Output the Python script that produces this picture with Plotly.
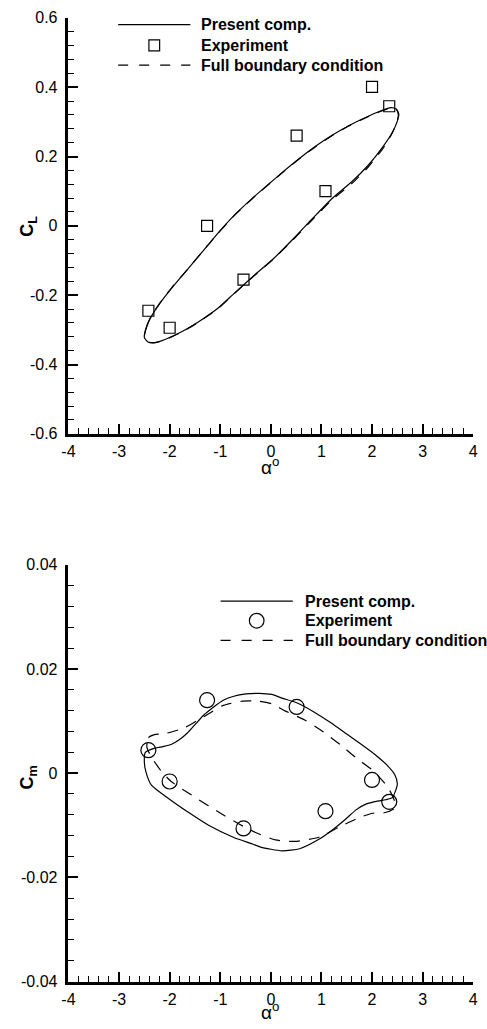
import plotly.graph_objects as go

# ---------------- data ----------------
# experiment angles (deg), shared by both panels
alpha_exp = [-2.42, -2.00, -1.26, -0.54, 0.51, 1.08, 2.00, 2.34]
cl_exp = [-0.245, -0.294, 0.0, -0.155, 0.26, 0.10, 0.401, 0.345]
cm_exp = [0.0044, -0.0016, 0.0140, -0.0106, 0.0127, -0.0073, -0.0013, -0.0055]

# lift loop, present computation
alpha_cl_present = [-2.50, -2.46, -2.36, -2.19, -1.94, -1.62, -1.36, -1.04, -0.72, -0.40,
                    -0.07, 0.25, 0.57, 0.89, 1.21, 1.53, 1.85, 2.18, 2.37, 2.48,
                    2.53, 2.50, 2.40, 2.21, 1.92, 1.60, 1.21, 0.83, 0.44, 0.05,
                    -0.33, -0.72, -1.04, -1.36, -1.68, -2.00, -2.26, -2.42, -2.50]
cl_present = [-0.322, -0.294, -0.261, -0.223, -0.176, -0.121, -0.076, -0.020, 0.031, 0.075,
              0.117, 0.157, 0.195, 0.230, 0.261, 0.288, 0.311, 0.332, 0.341, 0.337,
              0.321, 0.302, 0.269, 0.227, 0.174, 0.127, 0.079, 0.022, -0.038, -0.095,
              -0.143, -0.194, -0.237, -0.270, -0.299, -0.322, -0.336, -0.336, -0.322]

# lift loop, full boundary condition
alpha_cl_full = [-2.50, -2.46, -2.36, -2.19, -1.94, -1.62, -1.36, -1.04, -0.72, -0.40,
                 -0.07, 0.25, 0.57, 0.89, 1.21, 1.53, 1.85, 2.18, 2.37, 2.48,
                 2.52, 2.49, 2.39, 2.21, 1.92, 1.60, 1.21, 0.83, 0.44, 0.05,
                 -0.33, -0.72, -1.04, -1.36, -1.68, -2.00, -2.26, -2.42, -2.50]
cl_full = [-0.321, -0.292, -0.259, -0.222, -0.175, -0.121, -0.076, -0.021, 0.030, 0.074,
           0.116, 0.156, 0.194, 0.229, 0.260, 0.287, 0.310, 0.331, 0.340, 0.336,
           0.319, 0.299, 0.265, 0.222, 0.169, 0.122, 0.075, 0.019, -0.040, -0.096,
           -0.144, -0.195, -0.238, -0.271, -0.300, -0.323, -0.336, -0.335, -0.321]

# moment loop, present computation
alpha_cm_present = [-2.48, -2.29, -2.13, -1.97, -1.81, -1.65, -1.49, -1.33, -1.13, -0.94,
                    -0.75, -0.49, -0.24, 0.02, 0.22, 0.51, 0.86, 1.18, 1.50, 1.82,
                    2.08, 2.30, 2.45, 2.50, 2.46, 2.40, 2.27, 2.08, 1.89, 1.69,
                    1.47, 1.23, 0.95, 0.57, 0.22, -0.20, -0.36, -0.72, -1.23, -1.57,
                    -2.03, -2.36, -2.47, -2.50, -2.48]
cm_present = [0.0040, 0.0048, 0.0051, 0.0055, 0.0064, 0.0077, 0.0094, 0.0111, 0.0127, 0.0140,
              0.0147, 0.0152, 0.0153, 0.0151, 0.0144, 0.0135, 0.0117, 0.0097, 0.0075, 0.0053,
              0.0034, 0.0015, -0.0003, -0.0020, -0.0035, -0.0047, -0.0051, -0.0054, -0.0059, -0.0070,
              -0.0089, -0.0108, -0.0127, -0.0145, -0.0149, -0.0142, -0.0136, -0.0124, -0.0100, -0.0079,
              -0.0048, -0.0023, 0.0003, 0.0021, 0.0040]

# moment loop, full boundary condition
alpha_cm_full = [-2.45, -2.42, -2.30, -2.19, -2.00, -1.71, -1.33, -0.94, -0.56, -0.24,
                 0.02, 0.29, 0.67, 1.04, 1.38, 1.69, 2.03, 2.32, 2.46, 2.44,
                 2.24, 2.01, 1.73, 1.36, 0.95, 0.47, 0.09, -0.30, -0.62, -1.01,
                 -1.52, -1.97, -2.16, -2.36, -2.45]
cm_full = [0.0050, 0.0068, 0.0074, 0.0075, 0.0078, 0.0087, 0.0108, 0.0130, 0.0138, 0.0138,
           0.0133, 0.0119, 0.0102, 0.0079, 0.0054, 0.0029, 0.0004, -0.0028, -0.0058, -0.0068,
           -0.0076, -0.0077, -0.0086, -0.0103, -0.0123, -0.0131, -0.0128, -0.0114, -0.0098, -0.0076,
           -0.0045, -0.0016, 0.0003, 0.0031, 0.0050]

# tick labels
x_ticks = [-4, -3, -2, -1, 0, 1, 2, 3, 4]
x_ticklabels = ["-4", "-3", "-2", "-1", "0", "1", "2", "3", "4"]
cl_ticks = [-0.6, -0.4, -0.2, 0, 0.2, 0.4, 0.6]
cl_ticklabels = ["-0.6", "-0.4", "-0.2", "0", "0.2", "0.4", "0.6"]
cm_ticks = [-0.04, -0.02, 0, 0.02, 0.04]
cm_ticklabels = ["-0.04", "-0.02", "0", "0.02", "0.04"]

legend_labels = ["Present comp.", "Experiment", "Full boundary condition"]

# ---------------- figure ----------------
W, H = 487, 1029
FONT = "Liberation Sans, Arial, Helvetica, sans-serif"


def fx(px):
    return px / W


def fy(py):
    return 1 - py / H


line_solid = dict(color="black", width=1.2, shape="spline", smoothing=0.6)
line_dash = dict(color="black", width=1.2, dash="11px,9px", shape="spline", smoothing=0.6)

fig = go.Figure()

# lift panel
fig.add_trace(go.Scatter(x=alpha_cl_full, y=cl_full, mode="lines", line=line_dash,
                         xaxis="x", yaxis="y", showlegend=False))
fig.add_trace(go.Scatter(x=alpha_cl_present, y=cl_present, mode="lines", line=line_solid,
                         xaxis="x", yaxis="y", showlegend=False))
fig.add_trace(go.Scatter(x=alpha_exp, y=cl_exp, mode="markers",
                         marker=dict(symbol="square-open", size=11, color="black",
                                     line=dict(width=1.2, color="black")),
                         xaxis="x", yaxis="y", showlegend=False))

# moment panel
fig.add_trace(go.Scatter(x=alpha_cm_full, y=cm_full, mode="lines", line=line_dash,
                         xaxis="x2", yaxis="y2", showlegend=False))
fig.add_trace(go.Scatter(x=alpha_cm_present, y=cm_present, mode="lines", line=line_solid,
                         xaxis="x2", yaxis="y2", showlegend=False))
fig.add_trace(go.Scatter(x=alpha_exp, y=cm_exp, mode="markers",
                         marker=dict(symbol="circle-open", size=15, color="black",
                                     line=dict(width=1.2, color="black")),
                         xaxis="x2", yaxis="y2", showlegend=False))

tickfont = dict(family=FONT, size=16, color="black")


def axis(rng, vals, text, minor_step, tick0, domain, anchor, standoff):
    return dict(
        range=rng, domain=domain, anchor=anchor,
        showline=True, linecolor="black", linewidth=2.5, mirror=False,
        ticks="inside", ticklen=10, tickwidth=2, tickcolor="black",
        tickmode="array", tickvals=vals, ticktext=text, tickfont=tickfont,
        ticklabelstandoff=standoff,
        minor=dict(ticks="inside", ticklen=6, tickwidth=1, tickcolor="black",
                   tick0=tick0, dtick=minor_step, showgrid=False),
        showgrid=False, zeroline=False, fixedrange=True,
    )


xdom = [fx(63), fx(478)]
top_dom = [fy(433), fy(10)]
bot_dom = [fy(990), fy(566)]

fig.update_layout(
    width=W, height=H,
    margin=dict(l=0, r=0, t=0, b=0),
    paper_bgcolor="white", plot_bgcolor="white",
    font=dict(family=FONT, color="black"),
    xaxis=axis([-4, 4], x_ticks, x_ticklabels, 0.2, -4, xdom, "y", 1),
    yaxis=axis([-0.6, 0.6], cl_ticks, cl_ticklabels, 0.04, -0.6, top_dom, "x", 5),
    xaxis2=axis([-4, 4], x_ticks, x_ticklabels, 0.2, -4, xdom, "y2", 1),
    yaxis2=axis([-0.04, 0.04], cm_ticks, cm_ticklabels, 0.004, -0.04, bot_dom, "x2", 5),
)

annotations = []
shapes = []

# axis titles
for py in (466, 1020):
    annotations.append(dict(x=fx(270), y=fy(py), xref="paper", yref="paper",
                            xanchor="center", yanchor="middle",
                            text="α<sup>o</sup>", showarrow=False,
                            font=dict(family=FONT, size=19, color="black")))
for py, txt in ((222, "C<sub>L</sub>"), (782, "C<sub>m</sub>")):
    annotations.append(dict(x=fx(22), y=fy(py), xref="paper", yref="paper",
                            xanchor="center", yanchor="middle",
                            text=txt, textangle=-90, showarrow=False,
                            font=dict(family=FONT, size=18, color="black", weight="bold")))


# legends (sample line / marker + bold label)
def legend(x0, x1, text_x, rows, marker):
    ys = rows
    shapes.append(dict(type="line", xref="paper", yref="paper",
                       x0=fx(x0), x1=fx(x1), y0=fy(ys[0]), y1=fy(ys[0]),
                       line=dict(color="black", width=1.2)))
    cx = (x0 + x1) / 2
    if marker == "square":
        r = 5.5
        shapes.append(dict(type="rect", xref="paper", yref="paper",
                           x0=fx(cx - r), x1=fx(cx + r), y0=fy(ys[1] + r), y1=fy(ys[1] - r),
                           line=dict(color="black", width=1.2)))
    else:
        r = 7.5
        shapes.append(dict(type="circle", xref="paper", yref="paper",
                           x0=fx(cx - r), x1=fx(cx + r), y0=fy(ys[1] + r), y1=fy(ys[1] - r),
                           line=dict(color="black", width=1.2)))
    shapes.append(dict(type="line", xref="paper", yref="paper",
                       x0=fx(x0), x1=fx(x1), y0=fy(ys[2]), y1=fy(ys[2]),
                       line=dict(color="black", width=1.2, dash="10px,11px")))
    for py, lab in zip(ys, legend_labels):
        annotations.append(dict(x=fx(text_x), y=fy(py), xref="paper", yref="paper",
                                xanchor="left", yanchor="middle", text=lab, showarrow=False,
                                font=dict(family=FONT, size=16, color="black", weight="bold")))


legend(114, 188, 197, (17, 38, 58), "square")
legend(219, 293, 303, (603, 623, 643), "circle")

fig.update_layout(annotations=annotations, shapes=shapes)

fig.write_html("out.html")
